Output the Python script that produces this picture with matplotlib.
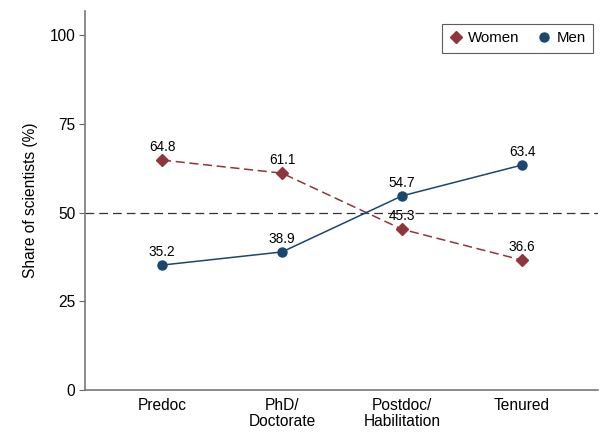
import matplotlib
matplotlib.use("Agg")
import matplotlib.pyplot as plt
from matplotlib.lines import Line2D

plt.rcParams['font.family'] = ['Liberation Sans', 'DejaVu Sans']

# Career stages and shares
stages = ["Predoc", "PhD/\nDoctorate", "Postdoc/\nHabilitation", "Tenured"]
women = [64.8, 61.1, 45.3, 36.6]
men = [35.2, 38.9, 54.7, 63.4]

women_color = "#90353b"
men_color = "#1a476f"

fig = plt.figure(figsize=(6.1, 4.44), dpi=100)
ax = fig.add_axes([85 / 610, 54 / 444, 513 / 610, 379 / 444])

x = list(range(1, len(stages) + 1))

ax.axhline(50, color="#333333", lw=0.9, ls=(0, (7, 4)), zorder=1)

ax.plot(x, women, color=women_color, lw=1.1, ls=(0, (6, 3)),
        marker="D", ms=6.5, zorder=3)
ax.plot(x, men, color=men_color, lw=1.1, marker="o", ms=6.5, zorder=3)

# value labels above each point
for series in (women, men):
    for xi, v in zip(x, series):
        ax.annotate(f"{v:.1f}", (xi, v), xytext=(0, 4.5), textcoords="offset points",
                    ha="center", va="bottom", fontsize=9.8)

ax.set_xlim(1 - 77 / 120, 4 + 76 / 120)
ax.set_ylim(0, 106.8)
ax.set_yticks([0, 25, 50, 75, 100])
ax.set_xticks(x)
ax.set_xticklabels(stages, fontsize=11.2, linespacing=1.05)
ax.tick_params(axis="x", length=0, pad=6)
ax.tick_params(axis="y", labelsize=11.2, length=4, color="#666666", pad=3)
ax.set_ylabel("Share of scientists (%)", fontsize=11.2, labelpad=8)

for side in ["top", "right"]:
    ax.spines[side].set_visible(False)
for side in ["left", "bottom"]:
    ax.spines[side].set_color("#777777")
    ax.spines[side].set_linewidth(1.2)

handles = [
    Line2D([], [], color=women_color, marker="D", ls="none", ms=6.5, label="Women"),
    Line2D([], [], color=men_color, marker="o", ls="none", ms=6.5, label="Men"),
]
leg = fig.legend(handles=handles, ncol=2, loc="upper right",
                 bbox_to_anchor=(593 / 610, 420 / 444), borderaxespad=0,
                 fontsize=10.8, frameon=True, fancybox=False, handletextpad=0.35,
                 columnspacing=1.2, handlelength=0.9, borderpad=0.5)
leg.get_frame().set_edgecolor("#333333")
leg.get_frame().set_linewidth(0.8)

fig.savefig("out.png", dpi=100)
